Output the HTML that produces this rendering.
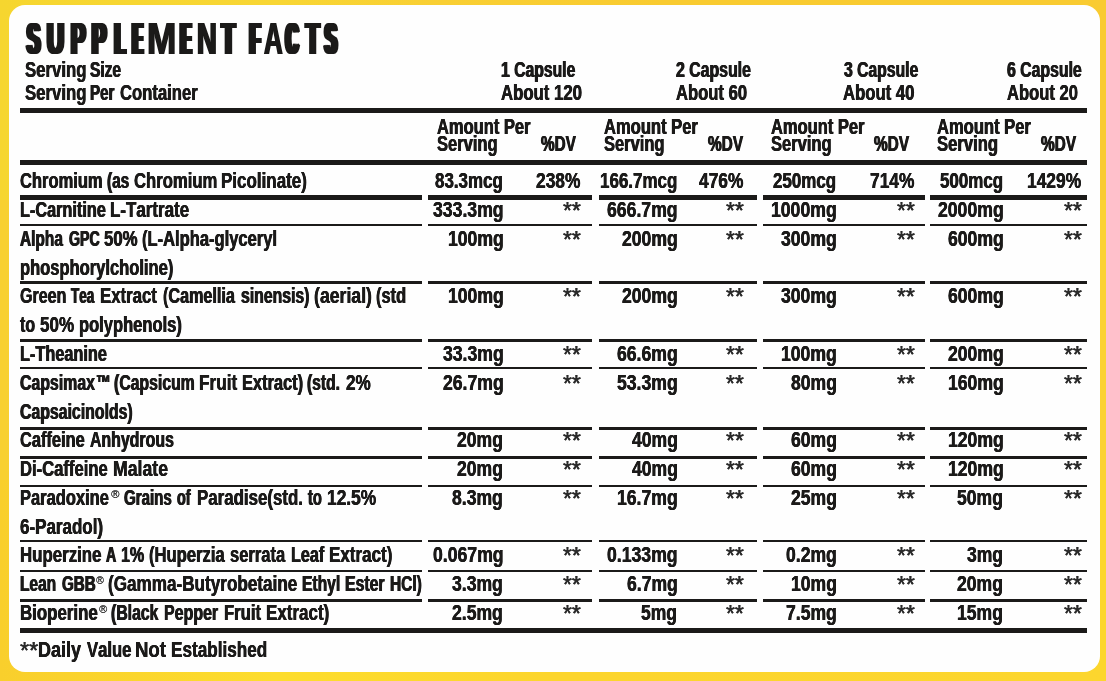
<!DOCTYPE html>
<html><head><meta charset="utf-8"><title>Supplement Facts</title>
<style>
html,body{margin:0;padding:0}
body{width:1106px;height:681px;overflow:hidden;position:relative;background:#f9d131;
 font-family:"Liberation Sans",sans-serif;font-weight:bold;color:#1b1a19;font-kerning:none;-webkit-font-smoothing:antialiased}
#bt,#bb{position:absolute;left:0;width:1106px;height:340px}
#bt{top:0;background:linear-gradient(90deg,#f6d62f 0%,#f8d634 25%,#f9cf33 40%,#f9cb30 60%,#f9cb31 100%)}
#bb{top:340px;height:341px;background:linear-gradient(90deg,#f9cf2c 0%,#fddd2d 25%,#fcd52d 50%,#fcd62e 100%)}
#bm{position:absolute;left:0;top:200px;width:1106px;height:280px;background:linear-gradient(90deg,#f8d030 0%,#fbd232 100%)}
#card{position:absolute;left:9px;top:4.5px;width:1091.3px;height:667.2px;background:#fefefe;border-radius:16px}
.l{position:absolute;background:#1b1a19}
span{position:absolute;white-space:nowrap;line-height:1;transform-origin:0 0;text-shadow:0.5px 0 0 #1b1a19,-0.5px 0 0 #1b1a19}
span.a{text-shadow:0.3px 0 0 #333,-0.3px 0 0 #333;color:#2a2a2a;font-weight:normal}
h1{margin:0;font-size:43.9px;font-weight:bold}
#wrap{position:absolute;left:0;top:0;width:1106px;height:681px;will-change:transform}
span.r{font-weight:normal;text-shadow:0.2px 0 0 #333;color:#2a2a2a}
</style></head><body>
<div id="bt"></div><div id="bb"></div><div id="bm"></div>
<div id="card"></div>
<div id="wrap">

<div class="l" style="left:20.0px;top:108.15px;width:1067.0px;height:5.30px"></div>
<div class="l" style="left:20.0px;top:159.80px;width:1067.0px;height:5.40px"></div>
<div class="l" style="left:20.0px;top:194.90px;width:402.2px;height:5.00px"></div>
<div class="l" style="left:428.4px;top:194.90px;width:164.1px;height:5.00px"></div>
<div class="l" style="left:598.6px;top:194.90px;width:158.0px;height:5.00px"></div>
<div class="l" style="left:763.0px;top:194.90px;width:161.5px;height:5.00px"></div>
<div class="l" style="left:930.3px;top:194.90px;width:156.7px;height:5.00px"></div>
<div class="l" style="left:20.0px;top:223.70px;width:402.2px;height:2.80px"></div>
<div class="l" style="left:428.4px;top:223.70px;width:164.1px;height:2.80px"></div>
<div class="l" style="left:598.6px;top:223.70px;width:158.0px;height:2.80px"></div>
<div class="l" style="left:763.0px;top:223.70px;width:161.5px;height:2.80px"></div>
<div class="l" style="left:930.3px;top:223.70px;width:156.7px;height:2.80px"></div>
<div class="l" style="left:20.0px;top:281.30px;width:402.2px;height:2.80px"></div>
<div class="l" style="left:428.4px;top:281.30px;width:164.1px;height:2.80px"></div>
<div class="l" style="left:598.6px;top:281.30px;width:158.0px;height:2.80px"></div>
<div class="l" style="left:763.0px;top:281.30px;width:161.5px;height:2.80px"></div>
<div class="l" style="left:930.3px;top:281.30px;width:156.7px;height:2.80px"></div>
<div class="l" style="left:20.0px;top:339.10px;width:402.2px;height:2.80px"></div>
<div class="l" style="left:428.4px;top:339.10px;width:164.1px;height:2.80px"></div>
<div class="l" style="left:598.6px;top:339.10px;width:158.0px;height:2.80px"></div>
<div class="l" style="left:763.0px;top:339.10px;width:161.5px;height:2.80px"></div>
<div class="l" style="left:930.3px;top:339.10px;width:156.7px;height:2.80px"></div>
<div class="l" style="left:20.0px;top:366.60px;width:402.2px;height:2.80px"></div>
<div class="l" style="left:428.4px;top:366.60px;width:164.1px;height:2.80px"></div>
<div class="l" style="left:598.6px;top:366.60px;width:158.0px;height:2.80px"></div>
<div class="l" style="left:763.0px;top:366.60px;width:161.5px;height:2.80px"></div>
<div class="l" style="left:930.3px;top:366.60px;width:156.7px;height:2.80px"></div>
<div class="l" style="left:20.0px;top:426.90px;width:402.2px;height:2.80px"></div>
<div class="l" style="left:428.4px;top:426.90px;width:164.1px;height:2.80px"></div>
<div class="l" style="left:598.6px;top:426.90px;width:158.0px;height:2.80px"></div>
<div class="l" style="left:763.0px;top:426.90px;width:161.5px;height:2.80px"></div>
<div class="l" style="left:930.3px;top:426.90px;width:156.7px;height:2.80px"></div>
<div class="l" style="left:20.0px;top:455.80px;width:402.2px;height:2.80px"></div>
<div class="l" style="left:428.4px;top:455.80px;width:164.1px;height:2.80px"></div>
<div class="l" style="left:598.6px;top:455.80px;width:158.0px;height:2.80px"></div>
<div class="l" style="left:763.0px;top:455.80px;width:161.5px;height:2.80px"></div>
<div class="l" style="left:930.3px;top:455.80px;width:156.7px;height:2.80px"></div>
<div class="l" style="left:20.0px;top:484.60px;width:402.2px;height:2.80px"></div>
<div class="l" style="left:428.4px;top:484.60px;width:164.1px;height:2.80px"></div>
<div class="l" style="left:598.6px;top:484.60px;width:158.0px;height:2.80px"></div>
<div class="l" style="left:763.0px;top:484.60px;width:161.5px;height:2.80px"></div>
<div class="l" style="left:930.3px;top:484.60px;width:156.7px;height:2.80px"></div>
<div class="l" style="left:20.0px;top:539.50px;width:402.2px;height:2.80px"></div>
<div class="l" style="left:428.4px;top:539.50px;width:164.1px;height:2.80px"></div>
<div class="l" style="left:598.6px;top:539.50px;width:158.0px;height:2.80px"></div>
<div class="l" style="left:763.0px;top:539.50px;width:161.5px;height:2.80px"></div>
<div class="l" style="left:930.3px;top:539.50px;width:156.7px;height:2.80px"></div>
<div class="l" style="left:20.0px;top:569.60px;width:402.2px;height:2.80px"></div>
<div class="l" style="left:428.4px;top:569.60px;width:164.1px;height:2.80px"></div>
<div class="l" style="left:598.6px;top:569.60px;width:158.0px;height:2.80px"></div>
<div class="l" style="left:763.0px;top:569.60px;width:161.5px;height:2.80px"></div>
<div class="l" style="left:930.3px;top:569.60px;width:156.7px;height:2.80px"></div>
<div class="l" style="left:20.0px;top:599.10px;width:402.2px;height:2.80px"></div>
<div class="l" style="left:428.4px;top:599.10px;width:164.1px;height:2.80px"></div>
<div class="l" style="left:598.6px;top:599.10px;width:158.0px;height:2.80px"></div>
<div class="l" style="left:763.0px;top:599.10px;width:161.5px;height:2.80px"></div>
<div class="l" style="left:930.3px;top:599.10px;width:156.7px;height:2.80px"></div>
<div class="l" style="left:20.0px;top:627.65px;width:1067.0px;height:5.30px"></div>
<h1><span class="t" style="left:27.29px;top:17px;transform:scaleX(0.4481);text-shadow:2.55px 0 0 #1b1a19,-2.55px 0 0 #1b1a19,5.11px 0 0 #1b1a19,-5.11px 0 0 #1b1a19">S</span><span class="t" style="left:46.77px;top:17px;transform:scaleX(0.5354);text-shadow:3.67px 0 0 #1b1a19,-3.67px 0 0 #1b1a19">U</span><span class="t" style="left:70.96px;top:17px;transform:scaleX(0.4939);text-shadow:2.14px 0 0 #1b1a19,-2.14px 0 0 #1b1a19,4.29px 0 0 #1b1a19,-4.29px 0 0 #1b1a19">P</span><span class="t" style="left:92.13px;top:17px;transform:scaleX(0.4832);text-shadow:2.23px 0 0 #1b1a19,-2.23px 0 0 #1b1a19,4.47px 0 0 #1b1a19,-4.47px 0 0 #1b1a19">P</span><span class="t" style="left:114.69px;top:17px;transform:scaleX(0.3739);text-shadow:3.43px 0 0 #1b1a19,-3.43px 0 0 #1b1a19,6.85px 0 0 #1b1a19,-6.85px 0 0 #1b1a19">L</span><span class="t" style="left:133.15px;top:17px;transform:scaleX(0.3150);text-shadow:2.94px 0 0 #1b1a19,-2.94px 0 0 #1b1a19,5.89px 0 0 #1b1a19,-5.89px 0 0 #1b1a19,8.83px 0 0 #1b1a19,-8.83px 0 0 #1b1a19">E</span><span class="t" style="left:146.76px;top:17px;transform:scaleX(0.8007);text-shadow:0.79px 0 0 #1b1a19,-0.79px 0 0 #1b1a19">M</span><span class="t" style="left:181.15px;top:17px;transform:scaleX(0.3313);text-shadow:2.74px 0 0 #1b1a19,-2.74px 0 0 #1b1a19,5.48px 0 0 #1b1a19,-5.48px 0 0 #1b1a19,8.22px 0 0 #1b1a19,-8.22px 0 0 #1b1a19">E</span><span class="t" style="left:197.44px;top:17px;transform:scaleX(0.6227);text-shadow:1.43px 0 0 #1b1a19,-1.43px 0 0 #1b1a19">N</span><span class="t" style="left:222.23px;top:17px;transform:scaleX(0.4787);text-shadow:2.27px 0 0 #1b1a19,-2.27px 0 0 #1b1a19,4.54px 0 0 #1b1a19,-4.54px 0 0 #1b1a19">T</span> <span class="t" style="left:249.79px;top:17px;transform:scaleX(0.3737);text-shadow:3.43px 0 0 #1b1a19,-3.43px 0 0 #1b1a19,6.86px 0 0 #1b1a19,-6.86px 0 0 #1b1a19">F</span><span class="t" style="left:263.72px;top:17px;transform:scaleX(0.5896);text-shadow:1.38px 0 0 #1b1a19,-1.38px 0 0 #1b1a19">A</span><span class="t" style="left:286.47px;top:17px;transform:scaleX(0.3825);text-shadow:3.31px 0 0 #1b1a19,-3.31px 0 0 #1b1a19,6.62px 0 0 #1b1a19,-6.62px 0 0 #1b1a19">C</span><span class="t" style="left:305.85px;top:17px;transform:scaleX(0.4991);text-shadow:2.10px 0 0 #1b1a19,-2.10px 0 0 #1b1a19,4.21px 0 0 #1b1a19,-4.21px 0 0 #1b1a19">T</span><span class="t" style="left:325.21px;top:17px;transform:scaleX(0.3983);text-shadow:3.10px 0 0 #1b1a19,-3.10px 0 0 #1b1a19,6.21px 0 0 #1b1a19,-6.21px 0 0 #1b1a19">S</span></h1>
<span style="left:25.13px;top:60px;font-size:21.3px;transform:scaleX(0.7869);text-shadow:0.40px 0 0 #1b1a19,-0.40px 0 0 #1b1a19">Serving</span>
<span style="left:90.25px;top:60px;font-size:21.3px;transform:scaleX(0.7292);text-shadow:0.55px 0 0 #1b1a19,-0.55px 0 0 #1b1a19">Size</span>
<span style="left:25.13px;top:83px;font-size:21.3px;transform:scaleX(0.7869);text-shadow:0.40px 0 0 #1b1a19,-0.40px 0 0 #1b1a19">Serving</span>
<span style="left:90.32px;top:83px;font-size:21.3px;transform:scaleX(0.7100);text-shadow:0.60px 0 0 #1b1a19,-0.60px 0 0 #1b1a19">Per</span>
<span style="left:120.24px;top:83px;font-size:21.3px;transform:scaleX(0.7816);text-shadow:0.41px 0 0 #1b1a19,-0.41px 0 0 #1b1a19">Container</span>
<span style="left:501.09px;top:60px;font-size:21.3px;transform:scaleX(0.7390);text-shadow:0.52px 0 0 #1b1a19,-0.52px 0 0 #1b1a19">1 Capsule</span>
<span style="left:500.60px;top:83px;font-size:21.3px;transform:scaleX(0.7865);text-shadow:0.40px 0 0 #1b1a19,-0.40px 0 0 #1b1a19">About 120</span>
<span style="left:675.53px;top:60px;font-size:21.3px;transform:scaleX(0.7447);text-shadow:0.51px 0 0 #1b1a19,-0.51px 0 0 #1b1a19">2 Capsule</span>
<span style="left:675.61px;top:83px;font-size:21.3px;transform:scaleX(0.7797);text-shadow:0.42px 0 0 #1b1a19,-0.42px 0 0 #1b1a19">About 60</span>
<span style="left:843.72px;top:60px;font-size:21.3px;transform:scaleX(0.7387);text-shadow:0.52px 0 0 #1b1a19,-0.52px 0 0 #1b1a19">3 Capsule</span>
<span style="left:843.20px;top:83px;font-size:21.3px;transform:scaleX(0.7843);text-shadow:0.40px 0 0 #1b1a19,-0.40px 0 0 #1b1a19">About 40</span>
<span style="left:1006.70px;top:60px;font-size:21.3px;transform:scaleX(0.7430);text-shadow:0.51px 0 0 #1b1a19,-0.51px 0 0 #1b1a19">6 Capsule</span>
<span style="left:1006.81px;top:83px;font-size:21.3px;transform:scaleX(0.7786);text-shadow:0.42px 0 0 #1b1a19,-0.42px 0 0 #1b1a19">About 20</span>
<span style="left:437.22px;top:117px;font-size:21.3px;transform:scaleX(0.7746);text-shadow:0.43px 0 0 #1b1a19,-0.43px 0 0 #1b1a19">Amount Per</span>
<span style="left:437.15px;top:134px;font-size:21.3px;transform:scaleX(0.7759);text-shadow:0.43px 0 0 #1b1a19,-0.43px 0 0 #1b1a19">Serving</span>
<span style="left:540.84px;top:134px;font-size:21.3px;transform:scaleX(0.7182);text-shadow:0.58px 0 0 #1b1a19,-0.58px 0 0 #1b1a19">%DV</span>
<span style="left:603.81px;top:117px;font-size:21.3px;transform:scaleX(0.7780);text-shadow:0.42px 0 0 #1b1a19,-0.42px 0 0 #1b1a19">Amount Per</span>
<span style="left:603.76px;top:134px;font-size:21.3px;transform:scaleX(0.7746);text-shadow:0.43px 0 0 #1b1a19,-0.43px 0 0 #1b1a19">Serving</span>
<span style="left:707.73px;top:134px;font-size:21.3px;transform:scaleX(0.7226);text-shadow:0.57px 0 0 #1b1a19,-0.57px 0 0 #1b1a19">%DV</span>
<span style="left:770.82px;top:117px;font-size:21.3px;transform:scaleX(0.7746);text-shadow:0.43px 0 0 #1b1a19,-0.43px 0 0 #1b1a19">Amount Per</span>
<span style="left:770.75px;top:134px;font-size:21.3px;transform:scaleX(0.7759);text-shadow:0.43px 0 0 #1b1a19,-0.43px 0 0 #1b1a19">Serving</span>
<span style="left:874.33px;top:134px;font-size:21.3px;transform:scaleX(0.7226);text-shadow:0.57px 0 0 #1b1a19,-0.57px 0 0 #1b1a19">%DV</span>
<span style="left:937.21px;top:117px;font-size:21.3px;transform:scaleX(0.7780);text-shadow:0.42px 0 0 #1b1a19,-0.42px 0 0 #1b1a19">Amount Per</span>
<span style="left:937.14px;top:134px;font-size:21.3px;transform:scaleX(0.7814);text-shadow:0.41px 0 0 #1b1a19,-0.41px 0 0 #1b1a19">Serving</span>
<span style="left:1041.23px;top:134px;font-size:21.3px;transform:scaleX(0.7226);text-shadow:0.57px 0 0 #1b1a19,-0.57px 0 0 #1b1a19">%DV</span>
<span class="a" style="left:19.72px;top:640px;font-size:23.0px;transform:scaleX(1.0191)">**</span>
<span style="left:19.85px;top:171px;font-size:21.3px;transform:scaleX(0.7760);text-shadow:0.42px 0 0 #1b1a19,-0.42px 0 0 #1b1a19">Chromium</span>
<span style="left:107.24px;top:171px;font-size:21.3px;transform:scaleX(0.7238);text-shadow:0.56px 0 0 #1b1a19,-0.56px 0 0 #1b1a19">(as</span>
<span style="left:133.94px;top:171px;font-size:21.3px;transform:scaleX(0.7829);text-shadow:0.41px 0 0 #1b1a19,-0.41px 0 0 #1b1a19">Chromium</span>
<span style="left:220.96px;top:171px;font-size:21.3px;transform:scaleX(0.7974);text-shadow:0.37px 0 0 #1b1a19,-0.37px 0 0 #1b1a19">Picolinate)</span>
<span style="left:20.16px;top:200px;font-size:21.3px;transform:scaleX(0.7636);text-shadow:0.46px 0 0 #1b1a19,-0.46px 0 0 #1b1a19">L-Carnitine</span>
<span style="left:109.97px;top:200px;font-size:21.3px;transform:scaleX(0.7958);text-shadow:0.38px 0 0 #1b1a19,-0.38px 0 0 #1b1a19">L-Tartrate</span>
<span style="left:20.02px;top:229px;font-size:21.3px;transform:scaleX(0.7246);text-shadow:0.56px 0 0 #1b1a19,-0.56px 0 0 #1b1a19">Alpha</span>
<span style="left:69.32px;top:229px;font-size:21.3px;transform:scaleX(0.6645);text-shadow:0.75px 0 0 #1b1a19,-0.75px 0 0 #1b1a19">GPC</span>
<span style="left:104.10px;top:229px;font-size:21.3px;transform:scaleX(0.7865);text-shadow:0.40px 0 0 #1b1a19,-0.40px 0 0 #1b1a19">50%</span>
<span style="left:142.01px;top:229px;font-size:21.3px;transform:scaleX(0.7762);text-shadow:0.42px 0 0 #1b1a19,-0.42px 0 0 #1b1a19">(L-Alpha-glyceryl</span>
<span style="left:20.14px;top:258px;font-size:21.3px;transform:scaleX(0.7760);text-shadow:0.42px 0 0 #1b1a19,-0.42px 0 0 #1b1a19">phosphorylcholine)</span>
<span style="left:19.90px;top:286px;font-size:21.3px;transform:scaleX(0.7542);text-shadow:0.48px 0 0 #1b1a19,-0.48px 0 0 #1b1a19">Green</span>
<span style="left:71.30px;top:286px;font-size:21.3px;transform:scaleX(0.6313);text-shadow:0.87px 0 0 #1b1a19,-0.87px 0 0 #1b1a19">Tea</span>
<span style="left:100.49px;top:286px;font-size:21.3px;transform:scaleX(0.7879);text-shadow:0.40px 0 0 #1b1a19,-0.40px 0 0 #1b1a19">Extract</span>
<span style="left:162.55px;top:286px;font-size:21.3px;transform:scaleX(0.7591);text-shadow:0.47px 0 0 #1b1a19,-0.47px 0 0 #1b1a19">(Camellia</span>
<span style="left:240.53px;top:286px;font-size:21.3px;transform:scaleX(0.7416);text-shadow:0.51px 0 0 #1b1a19,-0.51px 0 0 #1b1a19">sinensis)</span>
<span style="left:313.67px;top:286px;font-size:21.3px;transform:scaleX(0.8298);text-shadow:0.30px 0 0 #1b1a19,-0.30px 0 0 #1b1a19">(aerial)</span>
<span style="left:375.92px;top:286px;font-size:21.3px;transform:scaleX(0.7717);text-shadow:0.44px 0 0 #1b1a19,-0.44px 0 0 #1b1a19">(std</span>
<span style="left:20.37px;top:315px;font-size:21.3px;transform:scaleX(0.7502);text-shadow:0.49px 0 0 #1b1a19,-0.49px 0 0 #1b1a19">to</span>
<span style="left:39.97px;top:315px;font-size:21.3px;transform:scaleX(0.7995);text-shadow:0.37px 0 0 #1b1a19,-0.37px 0 0 #1b1a19">50%</span>
<span style="left:78.64px;top:315px;font-size:21.3px;transform:scaleX(0.7761);text-shadow:0.42px 0 0 #1b1a19,-0.42px 0 0 #1b1a19">polyphenols)</span>
<span style="left:20.16px;top:344px;font-size:21.3px;transform:scaleX(0.7654);text-shadow:0.45px 0 0 #1b1a19,-0.45px 0 0 #1b1a19">L-Theanine</span>
<span style="left:19.93px;top:373px;font-size:21.3px;transform:scaleX(0.7444);text-shadow:0.51px 0 0 #1b1a19,-0.51px 0 0 #1b1a19">Capsimax</span>
<span style="left:96.46px;top:373px;font-size:21.3px;transform:scaleX(0.6893);text-shadow:0.67px 0 0 #1b1a19,-0.67px 0 0 #1b1a19">&#8482;</span>
<span style="left:113.99px;top:373px;font-size:21.3px;transform:scaleX(0.7421);text-shadow:0.51px 0 0 #1b1a19,-0.51px 0 0 #1b1a19">(Capsicum</span>
<span style="left:199.13px;top:373px;font-size:21.3px;transform:scaleX(0.8071);text-shadow:0.35px 0 0 #1b1a19,-0.35px 0 0 #1b1a19">Fruit</span>
<span style="left:241.64px;top:373px;font-size:21.3px;transform:scaleX(0.7709);text-shadow:0.44px 0 0 #1b1a19,-0.44px 0 0 #1b1a19">Extract)</span>
<span style="left:307.42px;top:373px;font-size:21.3px;transform:scaleX(0.7332);text-shadow:0.54px 0 0 #1b1a19,-0.54px 0 0 #1b1a19">(std.</span>
<span style="left:346.39px;top:373px;font-size:21.3px;transform:scaleX(0.8047);text-shadow:0.36px 0 0 #1b1a19,-0.36px 0 0 #1b1a19">2%</span>
<span style="left:19.93px;top:402px;font-size:21.3px;transform:scaleX(0.7438);text-shadow:0.51px 0 0 #1b1a19,-0.51px 0 0 #1b1a19">Capsaicinolds)</span>
<span style="left:19.86px;top:430px;font-size:21.3px;transform:scaleX(0.7706);text-shadow:0.44px 0 0 #1b1a19,-0.44px 0 0 #1b1a19">Caffeine</span>
<span style="left:90.08px;top:430px;font-size:21.3px;transform:scaleX(0.7463);text-shadow:0.50px 0 0 #1b1a19,-0.50px 0 0 #1b1a19">Anhydrous</span>
<span style="left:20.11px;top:459px;font-size:21.3px;transform:scaleX(0.7804);text-shadow:0.41px 0 0 #1b1a19,-0.41px 0 0 #1b1a19">Di-Caffeine</span>
<span style="left:112.87px;top:459px;font-size:21.3px;transform:scaleX(0.8295);text-shadow:0.30px 0 0 #1b1a19,-0.30px 0 0 #1b1a19">Malate</span>
<span style="left:20.13px;top:488px;font-size:21.3px;transform:scaleX(0.7742);text-shadow:0.43px 0 0 #1b1a19,-0.43px 0 0 #1b1a19">Paradoxine</span>
<span class="r" style="left:110.63px;top:489px;font-size:10.5px;transform:scaleX(1.0791)">&#174;</span>
<span style="left:124.11px;top:488px;font-size:21.3px;transform:scaleX(0.7080);text-shadow:0.61px 0 0 #1b1a19,-0.61px 0 0 #1b1a19">Grains</span>
<span style="left:177.42px;top:488px;font-size:21.3px;transform:scaleX(0.6750);text-shadow:0.71px 0 0 #1b1a19,-0.71px 0 0 #1b1a19">of</span>
<span style="left:197.18px;top:488px;font-size:21.3px;transform:scaleX(0.7923);text-shadow:0.39px 0 0 #1b1a19,-0.39px 0 0 #1b1a19">Paradise(std.</span>
<span style="left:308.08px;top:488px;font-size:21.3px;transform:scaleX(0.6877);text-shadow:0.67px 0 0 #1b1a19,-0.67px 0 0 #1b1a19">to</span>
<span style="left:326.88px;top:488px;font-size:21.3px;transform:scaleX(0.8148);text-shadow:0.33px 0 0 #1b1a19,-0.33px 0 0 #1b1a19">12.5%</span>
<span style="left:19.98px;top:517px;font-size:21.3px;transform:scaleX(0.7976);text-shadow:0.37px 0 0 #1b1a19,-0.37px 0 0 #1b1a19">6-Paradol)</span>
<span style="left:20.08px;top:545px;font-size:21.3px;transform:scaleX(0.7915);text-shadow:0.39px 0 0 #1b1a19,-0.39px 0 0 #1b1a19">Huperzine</span>
<span style="left:105.94px;top:545px;font-size:21.3px;transform:scaleX(0.6652);text-shadow:0.75px 0 0 #1b1a19,-0.75px 0 0 #1b1a19">A</span>
<span style="left:120.65px;top:545px;font-size:21.3px;transform:scaleX(0.7539);text-shadow:0.48px 0 0 #1b1a19,-0.48px 0 0 #1b1a19">1%</span>
<span style="left:148.80px;top:545px;font-size:21.3px;transform:scaleX(0.7798);text-shadow:0.42px 0 0 #1b1a19,-0.42px 0 0 #1b1a19">(Huperzia</span>
<span style="left:230.35px;top:545px;font-size:21.3px;transform:scaleX(0.7772);text-shadow:0.42px 0 0 #1b1a19,-0.42px 0 0 #1b1a19">serrata</span>
<span style="left:291.07px;top:545px;font-size:21.3px;transform:scaleX(0.7589);text-shadow:0.47px 0 0 #1b1a19,-0.47px 0 0 #1b1a19">Leaf</span>
<span style="left:328.86px;top:545px;font-size:21.3px;transform:scaleX(0.7993);text-shadow:0.37px 0 0 #1b1a19,-0.37px 0 0 #1b1a19">Extract)</span>
<span style="left:20.26px;top:574px;font-size:21.3px;transform:scaleX(0.7281);text-shadow:0.55px 0 0 #1b1a19,-0.55px 0 0 #1b1a19">Lean</span>
<span style="left:61.71px;top:574px;font-size:21.3px;transform:scaleX(0.7110);text-shadow:0.60px 0 0 #1b1a19,-0.60px 0 0 #1b1a19">GBB</span>
<span class="r" style="left:96.24px;top:575px;font-size:10.5px;transform:scaleX(0.9982)">&#174;</span>
<span style="left:107.73px;top:574px;font-size:21.3px;transform:scaleX(0.8040);text-shadow:0.36px 0 0 #1b1a19,-0.36px 0 0 #1b1a19">(Gamma-Butyrobetaine</span>
<span style="left:302.14px;top:574px;font-size:21.3px;transform:scaleX(0.7349);text-shadow:0.53px 0 0 #1b1a19,-0.53px 0 0 #1b1a19">Ethyl</span>
<span style="left:345.32px;top:574px;font-size:21.3px;transform:scaleX(0.7441);text-shadow:0.51px 0 0 #1b1a19,-0.51px 0 0 #1b1a19">Ester</span>
<span style="left:390.27px;top:574px;font-size:21.3px;transform:scaleX(0.7264);text-shadow:0.56px 0 0 #1b1a19,-0.56px 0 0 #1b1a19">HCl)</span>
<span style="left:20.08px;top:603px;font-size:21.3px;transform:scaleX(0.7919);text-shadow:0.39px 0 0 #1b1a19,-0.39px 0 0 #1b1a19">Bioperine</span>
<span class="r" style="left:98.73px;top:604px;font-size:10.5px;transform:scaleX(1.0386)">&#174;</span>
<span style="left:111.40px;top:603px;font-size:21.3px;transform:scaleX(0.7415);text-shadow:0.51px 0 0 #1b1a19,-0.51px 0 0 #1b1a19">(Black</span>
<span style="left:164.30px;top:603px;font-size:21.3px;transform:scaleX(0.7502);text-shadow:0.49px 0 0 #1b1a19,-0.49px 0 0 #1b1a19">Pepper</span>
<span style="left:224.10px;top:603px;font-size:21.3px;transform:scaleX(0.7837);text-shadow:0.41px 0 0 #1b1a19,-0.41px 0 0 #1b1a19">Fruit</span>
<span style="left:265.96px;top:603px;font-size:21.3px;transform:scaleX(0.7980);text-shadow:0.37px 0 0 #1b1a19,-0.37px 0 0 #1b1a19">Extract)</span>
<span style="left:38.22px;top:640px;font-size:21.3px;transform:scaleX(0.8457);text-shadow:0.27px 0 0 #1b1a19,-0.27px 0 0 #1b1a19">Daily</span>
<span style="left:86.61px;top:640px;font-size:21.3px;transform:scaleX(0.7820);text-shadow:0.41px 0 0 #1b1a19,-0.41px 0 0 #1b1a19">Value</span>
<span style="left:135.24px;top:640px;font-size:21.3px;transform:scaleX(0.8738);text-shadow:0.21px 0 0 #1b1a19,-0.21px 0 0 #1b1a19">Not</span>
<span style="left:170.84px;top:640px;font-size:21.3px;transform:scaleX(0.8056);text-shadow:0.35px 0 0 #1b1a19,-0.35px 0 0 #1b1a19">Established</span>
<span style="left:435.36px;top:171px;font-size:21.3px;transform:scaleX(0.7962);text-shadow:0.38px 0 0 #1b1a19,-0.38px 0 0 #1b1a19">83.3mcg</span>
<span style="left:599.94px;top:171px;font-size:21.3px;transform:scaleX(0.7971);text-shadow:0.37px 0 0 #1b1a19,-0.37px 0 0 #1b1a19">166.7mcg</span>
<span style="left:773.22px;top:171px;font-size:21.3px;transform:scaleX(0.7956);text-shadow:0.38px 0 0 #1b1a19,-0.38px 0 0 #1b1a19">250mcg</span>
<span style="left:940.11px;top:171px;font-size:21.3px;transform:scaleX(0.7956);text-shadow:0.38px 0 0 #1b1a19,-0.38px 0 0 #1b1a19">500mcg</span>
<span style="left:536.40px;top:171px;font-size:21.3px;transform:scaleX(0.8148);text-shadow:0.33px 0 0 #1b1a19,-0.33px 0 0 #1b1a19">238%</span>
<span style="left:699.29px;top:171px;font-size:21.3px;transform:scaleX(0.8149);text-shadow:0.33px 0 0 #1b1a19,-0.33px 0 0 #1b1a19">476%</span>
<span style="left:869.90px;top:171px;font-size:21.3px;transform:scaleX(0.8148);text-shadow:0.33px 0 0 #1b1a19,-0.33px 0 0 #1b1a19">714%</span>
<span style="left:1027.03px;top:171px;font-size:21.3px;transform:scaleX(0.8167);text-shadow:0.33px 0 0 #1b1a19,-0.33px 0 0 #1b1a19">1429%</span>
<span style="left:432.71px;top:200px;font-size:21.3px;transform:scaleX(0.8284);text-shadow:0.30px 0 0 #1b1a19,-0.30px 0 0 #1b1a19">333.3mg</span>
<span style="left:606.81px;top:200px;font-size:21.3px;transform:scaleX(0.8284);text-shadow:0.30px 0 0 #1b1a19,-0.30px 0 0 #1b1a19">666.7mg</span>
<span style="left:770.75px;top:200px;font-size:21.3px;transform:scaleX(0.8278);text-shadow:0.30px 0 0 #1b1a19,-0.30px 0 0 #1b1a19">1000mg</span>
<span style="left:937.65px;top:200px;font-size:21.3px;transform:scaleX(0.8279);text-shadow:0.30px 0 0 #1b1a19,-0.30px 0 0 #1b1a19">2000mg</span>
<span class="a" style="left:563.23px;top:200px;font-size:23.0px;transform:scaleX(0.9958)">**</span>
<span class="a" style="left:726.13px;top:200px;font-size:23.0px;transform:scaleX(0.9958)">**</span>
<span class="a" style="left:896.73px;top:200px;font-size:23.0px;transform:scaleX(0.9958)">**</span>
<span class="a" style="left:1063.63px;top:200px;font-size:23.0px;transform:scaleX(0.9958)">**</span>
<span style="left:447.54px;top:229px;font-size:21.3px;transform:scaleX(0.8266);text-shadow:0.31px 0 0 #1b1a19,-0.31px 0 0 #1b1a19">100mg</span>
<span style="left:621.64px;top:229px;font-size:21.3px;transform:scaleX(0.8266);text-shadow:0.31px 0 0 #1b1a19,-0.31px 0 0 #1b1a19">200mg</span>
<span style="left:780.63px;top:229px;font-size:21.3px;transform:scaleX(0.8267);text-shadow:0.31px 0 0 #1b1a19,-0.31px 0 0 #1b1a19">300mg</span>
<span style="left:947.54px;top:229px;font-size:21.3px;transform:scaleX(0.8266);text-shadow:0.31px 0 0 #1b1a19,-0.31px 0 0 #1b1a19">600mg</span>
<span class="a" style="left:563.23px;top:229px;font-size:23.0px;transform:scaleX(0.9958)">**</span>
<span class="a" style="left:726.13px;top:229px;font-size:23.0px;transform:scaleX(0.9958)">**</span>
<span class="a" style="left:896.73px;top:229px;font-size:23.0px;transform:scaleX(0.9958)">**</span>
<span class="a" style="left:1063.63px;top:229px;font-size:23.0px;transform:scaleX(0.9958)">**</span>
<span style="left:447.54px;top:286px;font-size:21.3px;transform:scaleX(0.8266);text-shadow:0.31px 0 0 #1b1a19,-0.31px 0 0 #1b1a19">100mg</span>
<span style="left:621.64px;top:286px;font-size:21.3px;transform:scaleX(0.8266);text-shadow:0.31px 0 0 #1b1a19,-0.31px 0 0 #1b1a19">200mg</span>
<span style="left:780.63px;top:286px;font-size:21.3px;transform:scaleX(0.8267);text-shadow:0.31px 0 0 #1b1a19,-0.31px 0 0 #1b1a19">300mg</span>
<span style="left:947.54px;top:286px;font-size:21.3px;transform:scaleX(0.8266);text-shadow:0.31px 0 0 #1b1a19,-0.31px 0 0 #1b1a19">600mg</span>
<span class="a" style="left:563.23px;top:286px;font-size:23.0px;transform:scaleX(0.9958)">**</span>
<span class="a" style="left:726.13px;top:286px;font-size:23.0px;transform:scaleX(0.9958)">**</span>
<span class="a" style="left:896.73px;top:286px;font-size:23.0px;transform:scaleX(0.9958)">**</span>
<span class="a" style="left:1063.63px;top:286px;font-size:23.0px;transform:scaleX(0.9958)">**</span>
<span style="left:442.59px;top:344px;font-size:21.3px;transform:scaleX(0.8273);text-shadow:0.30px 0 0 #1b1a19,-0.30px 0 0 #1b1a19">33.3mg</span>
<span style="left:616.70px;top:344px;font-size:21.3px;transform:scaleX(0.8273);text-shadow:0.31px 0 0 #1b1a19,-0.31px 0 0 #1b1a19">66.6mg</span>
<span style="left:780.64px;top:344px;font-size:21.3px;transform:scaleX(0.8266);text-shadow:0.31px 0 0 #1b1a19,-0.31px 0 0 #1b1a19">100mg</span>
<span style="left:947.54px;top:344px;font-size:21.3px;transform:scaleX(0.8266);text-shadow:0.31px 0 0 #1b1a19,-0.31px 0 0 #1b1a19">200mg</span>
<span class="a" style="left:563.23px;top:344px;font-size:23.0px;transform:scaleX(0.9958)">**</span>
<span class="a" style="left:726.13px;top:344px;font-size:23.0px;transform:scaleX(0.9958)">**</span>
<span class="a" style="left:896.73px;top:344px;font-size:23.0px;transform:scaleX(0.9958)">**</span>
<span class="a" style="left:1063.63px;top:344px;font-size:23.0px;transform:scaleX(0.9958)">**</span>
<span style="left:442.60px;top:373px;font-size:21.3px;transform:scaleX(0.8273);text-shadow:0.31px 0 0 #1b1a19,-0.31px 0 0 #1b1a19">26.7mg</span>
<span style="left:616.70px;top:373px;font-size:21.3px;transform:scaleX(0.8273);text-shadow:0.31px 0 0 #1b1a19,-0.31px 0 0 #1b1a19">53.3mg</span>
<span style="left:790.52px;top:373px;font-size:21.3px;transform:scaleX(0.8248);text-shadow:0.31px 0 0 #1b1a19,-0.31px 0 0 #1b1a19">80mg</span>
<span style="left:947.54px;top:373px;font-size:21.3px;transform:scaleX(0.8266);text-shadow:0.31px 0 0 #1b1a19,-0.31px 0 0 #1b1a19">160mg</span>
<span class="a" style="left:563.23px;top:373px;font-size:23.0px;transform:scaleX(0.9958)">**</span>
<span class="a" style="left:726.13px;top:373px;font-size:23.0px;transform:scaleX(0.9958)">**</span>
<span class="a" style="left:896.73px;top:373px;font-size:23.0px;transform:scaleX(0.9958)">**</span>
<span class="a" style="left:1063.63px;top:373px;font-size:23.0px;transform:scaleX(0.9958)">**</span>
<span style="left:457.42px;top:430px;font-size:21.3px;transform:scaleX(0.8248);text-shadow:0.31px 0 0 #1b1a19,-0.31px 0 0 #1b1a19">20mg</span>
<span style="left:631.52px;top:430px;font-size:21.3px;transform:scaleX(0.8249);text-shadow:0.31px 0 0 #1b1a19,-0.31px 0 0 #1b1a19">40mg</span>
<span style="left:790.52px;top:430px;font-size:21.3px;transform:scaleX(0.8248);text-shadow:0.31px 0 0 #1b1a19,-0.31px 0 0 #1b1a19">60mg</span>
<span style="left:947.54px;top:430px;font-size:21.3px;transform:scaleX(0.8266);text-shadow:0.31px 0 0 #1b1a19,-0.31px 0 0 #1b1a19">120mg</span>
<span class="a" style="left:563.23px;top:430px;font-size:23.0px;transform:scaleX(0.9958)">**</span>
<span class="a" style="left:726.13px;top:430px;font-size:23.0px;transform:scaleX(0.9958)">**</span>
<span class="a" style="left:896.73px;top:430px;font-size:23.0px;transform:scaleX(0.9958)">**</span>
<span class="a" style="left:1063.63px;top:430px;font-size:23.0px;transform:scaleX(0.9958)">**</span>
<span style="left:457.42px;top:459px;font-size:21.3px;transform:scaleX(0.8248);text-shadow:0.31px 0 0 #1b1a19,-0.31px 0 0 #1b1a19">20mg</span>
<span style="left:631.52px;top:459px;font-size:21.3px;transform:scaleX(0.8249);text-shadow:0.31px 0 0 #1b1a19,-0.31px 0 0 #1b1a19">40mg</span>
<span style="left:790.52px;top:459px;font-size:21.3px;transform:scaleX(0.8248);text-shadow:0.31px 0 0 #1b1a19,-0.31px 0 0 #1b1a19">60mg</span>
<span style="left:947.54px;top:459px;font-size:21.3px;transform:scaleX(0.8266);text-shadow:0.31px 0 0 #1b1a19,-0.31px 0 0 #1b1a19">120mg</span>
<span class="a" style="left:563.23px;top:459px;font-size:23.0px;transform:scaleX(0.9958)">**</span>
<span class="a" style="left:726.13px;top:459px;font-size:23.0px;transform:scaleX(0.9958)">**</span>
<span class="a" style="left:896.73px;top:459px;font-size:23.0px;transform:scaleX(0.9958)">**</span>
<span class="a" style="left:1063.63px;top:459px;font-size:23.0px;transform:scaleX(0.9958)">**</span>
<span style="left:452.48px;top:488px;font-size:21.3px;transform:scaleX(0.8258);text-shadow:0.31px 0 0 #1b1a19,-0.31px 0 0 #1b1a19">8.3mg</span>
<span style="left:616.70px;top:488px;font-size:21.3px;transform:scaleX(0.8273);text-shadow:0.31px 0 0 #1b1a19,-0.31px 0 0 #1b1a19">16.7mg</span>
<span style="left:790.52px;top:488px;font-size:21.3px;transform:scaleX(0.8248);text-shadow:0.31px 0 0 #1b1a19,-0.31px 0 0 #1b1a19">25mg</span>
<span style="left:957.42px;top:488px;font-size:21.3px;transform:scaleX(0.8248);text-shadow:0.31px 0 0 #1b1a19,-0.31px 0 0 #1b1a19">50mg</span>
<span class="a" style="left:563.23px;top:488px;font-size:23.0px;transform:scaleX(0.9958)">**</span>
<span class="a" style="left:726.13px;top:488px;font-size:23.0px;transform:scaleX(0.9958)">**</span>
<span class="a" style="left:896.73px;top:488px;font-size:23.0px;transform:scaleX(0.9958)">**</span>
<span class="a" style="left:1063.63px;top:488px;font-size:23.0px;transform:scaleX(0.9958)">**</span>
<span style="left:432.71px;top:545px;font-size:21.3px;transform:scaleX(0.8284);text-shadow:0.30px 0 0 #1b1a19,-0.30px 0 0 #1b1a19">0.067mg</span>
<span style="left:606.81px;top:545px;font-size:21.3px;transform:scaleX(0.8284);text-shadow:0.30px 0 0 #1b1a19,-0.30px 0 0 #1b1a19">0.133mg</span>
<span style="left:785.59px;top:545px;font-size:21.3px;transform:scaleX(0.8258);text-shadow:0.31px 0 0 #1b1a19,-0.31px 0 0 #1b1a19">0.2mg</span>
<span style="left:967.31px;top:545px;font-size:21.3px;transform:scaleX(0.8220);text-shadow:0.32px 0 0 #1b1a19,-0.32px 0 0 #1b1a19">3mg</span>
<span class="a" style="left:563.23px;top:545px;font-size:23.0px;transform:scaleX(0.9958)">**</span>
<span class="a" style="left:726.13px;top:545px;font-size:23.0px;transform:scaleX(0.9958)">**</span>
<span class="a" style="left:896.73px;top:545px;font-size:23.0px;transform:scaleX(0.9958)">**</span>
<span class="a" style="left:1063.63px;top:545px;font-size:23.0px;transform:scaleX(0.9958)">**</span>
<span style="left:452.48px;top:574px;font-size:21.3px;transform:scaleX(0.8259);text-shadow:0.31px 0 0 #1b1a19,-0.31px 0 0 #1b1a19">3.3mg</span>
<span style="left:626.58px;top:574px;font-size:21.3px;transform:scaleX(0.8258);text-shadow:0.31px 0 0 #1b1a19,-0.31px 0 0 #1b1a19">6.7mg</span>
<span style="left:790.53px;top:574px;font-size:21.3px;transform:scaleX(0.8247);text-shadow:0.31px 0 0 #1b1a19,-0.31px 0 0 #1b1a19">10mg</span>
<span style="left:957.42px;top:574px;font-size:21.3px;transform:scaleX(0.8248);text-shadow:0.31px 0 0 #1b1a19,-0.31px 0 0 #1b1a19">20mg</span>
<span class="a" style="left:563.23px;top:574px;font-size:23.0px;transform:scaleX(0.9958)">**</span>
<span class="a" style="left:726.13px;top:574px;font-size:23.0px;transform:scaleX(0.9958)">**</span>
<span class="a" style="left:896.73px;top:574px;font-size:23.0px;transform:scaleX(0.9958)">**</span>
<span class="a" style="left:1063.63px;top:574px;font-size:23.0px;transform:scaleX(0.9958)">**</span>
<span style="left:452.48px;top:603px;font-size:21.3px;transform:scaleX(0.8258);text-shadow:0.31px 0 0 #1b1a19,-0.31px 0 0 #1b1a19">2.5mg</span>
<span style="left:641.41px;top:603px;font-size:21.3px;transform:scaleX(0.8219);text-shadow:0.32px 0 0 #1b1a19,-0.32px 0 0 #1b1a19">5mg</span>
<span style="left:785.59px;top:603px;font-size:21.3px;transform:scaleX(0.8258);text-shadow:0.31px 0 0 #1b1a19,-0.31px 0 0 #1b1a19">7.5mg</span>
<span style="left:957.43px;top:603px;font-size:21.3px;transform:scaleX(0.8247);text-shadow:0.31px 0 0 #1b1a19,-0.31px 0 0 #1b1a19">15mg</span>
<span class="a" style="left:563.23px;top:603px;font-size:23.0px;transform:scaleX(0.9958)">**</span>
<span class="a" style="left:726.13px;top:603px;font-size:23.0px;transform:scaleX(0.9958)">**</span>
<span class="a" style="left:896.73px;top:603px;font-size:23.0px;transform:scaleX(0.9958)">**</span>
<span class="a" style="left:1063.63px;top:603px;font-size:23.0px;transform:scaleX(0.9958)">**</span>
</div></body></html>
